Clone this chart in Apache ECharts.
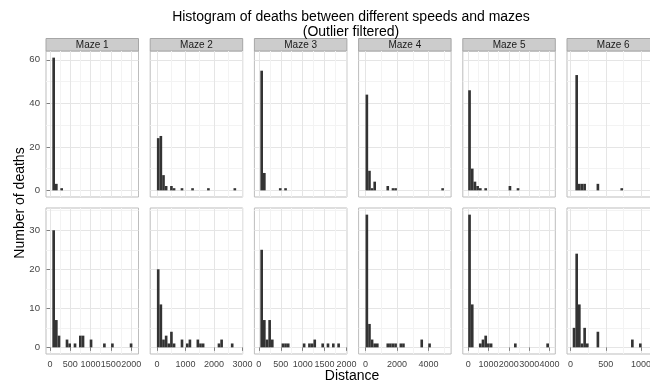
<!DOCTYPE html>
<html>
<head>
<meta charset="utf-8">
<script src="https://cdn.jsdelivr.net/npm/echarts@6/dist/echarts.min.js"></script>
<style>
html,body{margin:0;padding:0;background:#fff;}
#main{width:650px;height:386px;}
</style>
</head>
<body>
<div id="main"></div>
<script>
var mazes = ['Maze 1', 'Maze 2', 'Maze 3', 'Maze 4', 'Maze 5', 'Maze 6'];

// free x scale per maze (column)
var xMin = [-99, -235, -102, -442, -265, -50];
var xMax = [2181, 3011, 2011, 5435, 4285, 1262];
var xMajor = [[0, 500, 1000, 1500, 2000], [0, 1000, 2000, 3000], [0, 500, 1000, 1500, 2000], [0, 2000, 4000], [0, 1000, 2000, 3000, 4000], [0, 500, 1000]];
var xMinor = [[250, 750, 1250, 1750], [500, 1500, 2500], [250, 750, 1250, 1750], [1000, 3000, 5000], [500, 1500, 2500, 3500], [250, 750, 1250]];
var binStart = [57, 0, 34, 0, 0, 31];
var binWidth = [65.8, 92.7, 60.6, 166, 132.5, 37.6];

// y scale per speed (row)
var yMin = [-3.05, -1.7];
var yMax = [64.05, 35.7];
var yMajor = [[0, 20, 40, 60], [0, 10, 20, 30]];
var yMinor = [[10, 30, 50], [5, 15, 25, 35]];

// deaths per bin, top row
var countsTop = [
  [61,3,0,1,0,0,0,0,0,0, 0,0,0,0,0,0,0,0,0,0, 0,0,0,0,0,0,0,0,0,0],
  [24,25,7,2,0,2,1,0,0,1, 0,0,0,1,0,0,0,0,0,1, 0,0,0,0,0,0,0,0,0,1],
  [55,8,0,0,0,0,0,1,0,1, 0,0,0,0,0,0,0,0,0,0, 0,0,0,0,0,0,0,0,0,0],
  [44,9,1,4,0,0,0,0,2,0, 1,1,0,0,0,0,0,0,0,0, 0,0,0,0,0,0,0,0,0,1],
  [46,10,4,2,1,0,1,0,0,0, 0,0,0,0,0,2,0,0,1,0, 0,0,0,0,0,0,0,0,0,0],
  [0,53,3,3,3,0,0,0,0,3, 0,0,0,0,0,0,0,0,1,0, 0,0,0,0,0,0,0,0,0,0]
];
// deaths per bin, bottom row
var countsBottom = [
  [30,7,3,0,0,2,1,0,1,0, 3,3,0,0,2,0,0,0,0,1, 0,0,1,0,0,0,0,0,0,1],
  [20,11,2,3,1,4,1,0,0,2, 0,1,2,0,0,2,1,1,0,0, 0,0,0,1,2,0,0,0,1,0],
  [25,7,2,7,2,0,0,0,1,1, 1,0,0,0,0,0,1,0,1,1, 2,0,0,1,0,1,0,1,0,1],
  [34,6,2,1,1,0,0,0,1,1, 1,1,0,1,1,0,0,0,0,0, 0,2,0,0,1,0,0,0,0,0],
  [34,11,0,0,1,2,3,1,1,0, 0,0,0,0,0,0,0,1,0,0, 0,0,0,0,0,0,0,0,0,1],
  [5,24,11,1,5,1,0,0,0,4, 0,0,0,0,0,0,0,0,0,0, 0,0,2,0,0,1,0,0,0,0]
];

var FONT = '"Liberation Sans", Arial, Helvetica, sans-serif';
var panelLeft = 46, colStep = 104.2, panelW = 92.5, panelH = 146;
var rowTop = [51, 208];

var dom = document.getElementById('main');
var myChart = echarts.init(dom, null, {renderer: 'canvas'});

function barItem(w) {
  return function (params, api) {
    var x0 = api.value(0), n = api.value(1);
    var a = api.coord([x0, n]);
    var b = api.coord([x0 + w, 0]);
    return {
      type: 'rect',
      shape: {x: a[0], y: a[1], width: b[0] - a[0], height: b[1] - a[1]},
      style: {fill: '#333333'}
    };
  };
}

var grids = [], xAxes = [], yAxes = [], series = [], graphics = [];
for (var r = 0; r < 2; r++) {
  for (var c = 0; c < 6; c++) {
    var k = grids.length;
    var L = panelLeft + c * colStep;
    grids.push({
      left: L, top: rowTop[r], width: panelW, height: panelH,
      containLabel: false, outerBoundsMode: 'none',
      show: true, backgroundColor: '#ffffff', borderColor: '#bdbdbd', borderWidth: 1
    });
    // minor grid lines
    xAxes.push({
      gridIndex: k, type: 'value', min: xMin[c], max: xMax[c], position: 'top',
      axisLine: {show: false}, axisTick: {show: false, customValues: xMinor[c]},
      axisLabel: {show: false}, splitLine: {show: true, lineStyle: {color: '#f3f3f3', width: 1}}
    });
    yAxes.push({
      gridIndex: k, type: 'value', min: yMin[r], max: yMax[r], position: 'right',
      axisLine: {show: false}, axisTick: {show: false, customValues: yMinor[r]},
      axisLabel: {show: false}, splitLine: {show: true, lineStyle: {color: '#f3f3f3', width: 1}}
    });
    // major axes
    xAxes.push({
      gridIndex: k, type: 'value', min: xMin[c], max: xMax[c], position: 'bottom',
      axisLine: {show: false},
      axisTick: {show: r === 1, customValues: xMajor[c], length: 3.5, lineStyle: {color: '#7f7f7f'}},
      axisLabel: {show: r === 1, customValues: xMajor[c], color: '#444444', fontSize: 9, fontFamily: FONT, margin: 6,
        hideOverlap: false, showMinLabel: true, showMaxLabel: true,
        formatter: function (v) { return String(v); }},
      splitLine: {show: true, lineStyle: {color: '#e5e5e5', width: 1}}
    });
    yAxes.push({
      gridIndex: k, type: 'value', min: yMin[r], max: yMax[r], position: 'left',
      axisLine: {show: false},
      axisTick: {show: c === 0, customValues: yMajor[r], length: 3.5, lineStyle: {color: '#7f7f7f'}},
      axisLabel: {show: c === 0, customValues: yMajor[r], color: '#444444', fontSize: 9.6, fontFamily: FONT, margin: 6,
        hideOverlap: false, formatter: function (v) { return String(v); }},
      splitLine: {show: true, lineStyle: {color: '#e5e5e5', width: 1}}
    });

    var counts = r === 0 ? countsTop[c] : countsBottom[c];
    var data = [];
    for (var i = 0; i < counts.length; i++) {
      if (counts[i] > 0) data.push([binStart[c] + i * binWidth[c], counts[i]]);
    }
    series.push({
      type: 'custom', xAxisIndex: 2 * k + 1, yAxisIndex: 2 * k + 1,
      renderItem: barItem(binWidth[c]), data: data, clip: true, silent: true
    });

    if (r === 0) {
      graphics.push({
        type: 'rect', silent: true,
        shape: {x: L, y: 38.5, width: panelW, height: 12.5},
        style: {fill: '#cccccc', stroke: '#a6a6a6', lineWidth: 1}
      });
      graphics.push({
        type: 'text', silent: true, x: L + panelW / 2, y: 45,
        style: {text: mazes[c], fill: '#1a1a1a', font: '10px ' + FONT,
          align: 'center', verticalAlign: 'middle', textAlign: 'center', textVerticalAlign: 'middle'}
      });
    }
  }
}

// titles
graphics.push({
  type: 'text', silent: true, x: 351, y: 17,
  style: {text: 'Histogram of deaths between different speeds and mazes', fill: '#000', font: '14px ' + FONT,
    align: 'center', verticalAlign: 'middle', textAlign: 'center', textVerticalAlign: 'middle'}
});
graphics.push({
  type: 'text', silent: true, x: 351, y: 32,
  style: {text: '(Outlier filtered)', fill: '#000', font: '14px ' + FONT,
    align: 'center', verticalAlign: 'middle', textAlign: 'center', textVerticalAlign: 'middle'}
});
graphics.push({
  type: 'text', silent: true, x: 352, y: 376,
  style: {text: 'Distance', fill: '#000', font: '14px ' + FONT,
    align: 'center', verticalAlign: 'middle', textAlign: 'center', textVerticalAlign: 'middle'}
});
graphics.push({
  type: 'text', silent: true, x: 20, y: 203, rotation: Math.PI / 2,
  style: {text: 'Number of deaths', fill: '#000', font: '14px ' + FONT,
    align: 'center', verticalAlign: 'middle', textAlign: 'center', textVerticalAlign: 'middle'}
});

myChart.setOption({
  animation: false,
  backgroundColor: '#ffffff',
  grid: grids,
  xAxis: xAxes,
  yAxis: yAxes,
  series: series,
  graphic: {elements: graphics}
});
</script>
</body>
</html>
